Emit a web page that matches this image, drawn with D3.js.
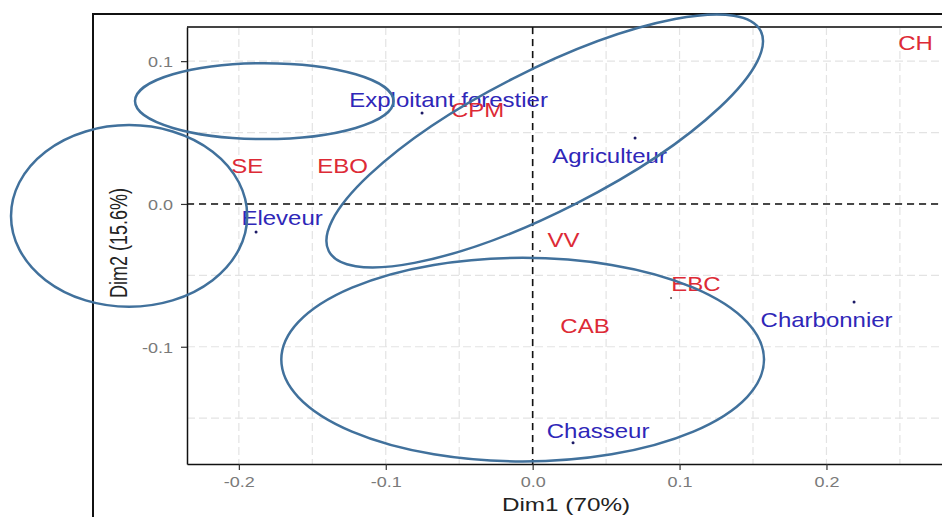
<!DOCTYPE html>
<html>
<head>
<meta charset="utf-8">
<script src="https://cdn.jsdelivr.net/npm/d3@7"></script>
<style>
  body { margin: 0; background: #fff; }
  svg { display: block; }
  text { font-family: "Liberation Sans", Arial, sans-serif; }
</style>
</head>
<body>
<svg width="942" height="517"></svg>
<script>
// row categories (blue)
var rowNames = ["Exploitant forestier", "Agriculteur", "Eleveur", "Charbonnier", "Chasseur"];
var rowDim1 = [-0.0753, 0.0697, -0.1883, 0.2188, 0.0275];
var rowDim2 = [0.0636, 0.0461, -0.0197, -0.0686, -0.1673];

// column categories (red)
var colNames = ["CH", "CPM", "SE", "EBO", "VV", "EBC", "CAB"];
var colDim1 = [0.2443, -0.0538, -0.2107, -0.1457, 0.0050, 0.0942, 0.0193];
var colDim2 = [0.1035, 0.0566, 0.0174, 0.0174, -0.0330, -0.0659, -0.0946];

var xTicks = [-0.2, -0.1, 0.0, 0.1, 0.2];
var yTicks = [0.1, 0.0, -0.1];
var xTitle = "Dim1 (70%)";
var yTitle = "Dim2 (15.6%)";

// hand drawn groupings, in data units
var ellCx = [-0.1827, -0.2747, 0.0082, -0.0068];
var ellCy = [0.072, -0.0084, 0.0441, -0.109];
var ellRx = [0.088, 0.0804, 0.165, 0.1643];
var ellRy = [0.0266, 0.0636, 0.049, 0.0713];
var ellAngle = [0, 0, -27, 0];

// label placement (pixels from point: centre x, baseline y)
var nudge = {
    "Exploitant forestier": [26.5, -6], "Agriculteur": [-25.5, 25], "Eleveur": [26, -7],
    "Charbonnier": [-27.5, 25], "Chasseur": [25, -5],
    "VV": [23.5, -4], "EBC": [25, -7]
};
var defaultNudge = [24, -6];
var dotsShown = ["VV", "EBC"];

var svg = d3.select("svg");
var pLeft = 187, pRight = 955, pTop = 27, pBottom = 464;

var x = d3.scaleLinear().domain([-0.2353, 0.2875]).range([pLeft, pRight]);
var y = d3.scaleLinear().domain([-0.1821, 0.1239]).range([pBottom, pTop]);

// outer frame
svg.append("rect").attr("x", 93).attr("y", 14).attr("width", 900).attr("height", 600)
    .attr("fill", "none").attr("stroke", "#111").attr("stroke-width", 2);

// grid
var grid = svg.append("g").attr("stroke", "#e3e3e3").attr("stroke-width", 1.2).attr("stroke-dasharray", "8,4");
grid.selectAll(".gx").data(x.ticks(10)).enter().append("line")
    .attr("x1", d => x(d)).attr("x2", d => x(d)).attr("y1", pTop).attr("y2", pBottom);
grid.selectAll(".gy").data(y.ticks(6)).enter().append("line")
    .attr("y1", d => y(d)).attr("y2", d => y(d)).attr("x1", pLeft).attr("x2", pRight);

// top border of panel
svg.append("line").attr("x1", pLeft).attr("x2", pRight).attr("y1", pTop).attr("y2", pTop)
    .attr("stroke", "#444").attr("stroke-width", 2);

// zero lines
svg.append("line").attr("x1", x(0)).attr("x2", x(0)).attr("y1", pTop).attr("y2", pBottom)
    .attr("stroke", "#111").attr("stroke-width", 1.6).attr("stroke-dasharray", "7,5");
svg.append("line").attr("x1", pLeft).attr("x2", pRight).attr("y1", y(0)).attr("y2", y(0))
    .attr("stroke", "#111").attr("stroke-width", 1.6).attr("stroke-dasharray", "7,5");

var fmt = d => d.toFixed(1);

var gx = svg.append("g").attr("transform", "translate(0," + pBottom + ")")
    .call(d3.axisBottom(x).tickValues(xTicks).tickFormat(fmt).tickSize(6).tickSizeOuter(0));
var gy = svg.append("g").attr("transform", "translate(" + pLeft + ",0)")
    .call(d3.axisLeft(y).tickValues(yTicks).tickFormat(fmt).tickSize(6).tickSizeOuter(0));

[gx, gy].forEach(g => {
    g.select(".domain").attr("stroke", "#111").attr("stroke-width", 1.5);
    g.selectAll(".tick line").attr("stroke", "#333").attr("stroke-width", 1.2);
    g.selectAll(".tick text").attr("fill", "#7a7a7a").attr("font-size", 15)
        .attr("font-family", "Liberation Sans, Arial, sans-serif");
});
gx.selectAll(".tick text").attr("y", 23).attr("dy", 0).attr("transform", "scale(1.2,1)");
gy.selectAll(".tick text").attr("x", -11.7).attr("dy", "0.35em").attr("transform", "scale(1.2,1)");

// axis titles
svg.append("text").attr("transform", "translate(566,511) scale(1.35,1)")
    .attr("text-anchor", "middle").attr("font-size", 18).attr("fill", "#222").text(xTitle);
svg.append("text").attr("transform", "translate(127,243) scale(1.33,1) rotate(-90)")
    .attr("text-anchor", "middle").attr("font-size", 18).attr("fill", "#222").text(yTitle);

// points
var rows = rowNames.map((n, i) => ({ name: n, d1: rowDim1[i], d2: rowDim2[i] }));
var cols = colNames.map((n, i) => ({ name: n, d1: colDim1[i], d2: colDim2[i] }));

svg.selectAll(".rowpt").data(rows).enter().append("circle")
    .attr("cx", d => x(d.d1)).attr("cy", d => y(d.d2)).attr("r", 1.5).attr("fill", "#1c1a66");
svg.selectAll(".colpt").data(cols.filter(d => dotsShown.indexOf(d.name) >= 0)).enter().append("circle")
    .attr("cx", d => x(d.d1)).attr("cy", d => y(d.d2)).attr("r", 1).attr("fill", "#555");

function labels(data, color) {
    svg.selectAll(null).data(data).enter().append("text")
        .attr("transform", d => {
            var n = nudge[d.name] || defaultNudge;
            return "translate(" + (x(d.d1) + n[0]) + "," + (y(d.d2) + n[1]) + ") scale(1.2,1)";
        })
        .attr("text-anchor", "middle").attr("font-size", 20).attr("fill", color)
        .text(d => d.name);
}
labels(rows, "#2f27b8");
labels(cols, "#dd2a36");

// ellipses
svg.selectAll(".ell").data(ellCx).enter().append("ellipse")
    .attr("transform", (d, i) => "translate(" + x(d) + "," + y(ellCy[i]) + ") rotate(" + ellAngle[i] + ")")
    .attr("rx", (d, i) => x(d + ellRx[i]) - x(d))
    .attr("ry", (d, i) => y(ellCy[i]) - y(ellCy[i] + ellRy[i]))
    .attr("fill", "none").attr("stroke", "#41719c").attr("stroke-width", 2.5);
</script>
</body>
</html>
